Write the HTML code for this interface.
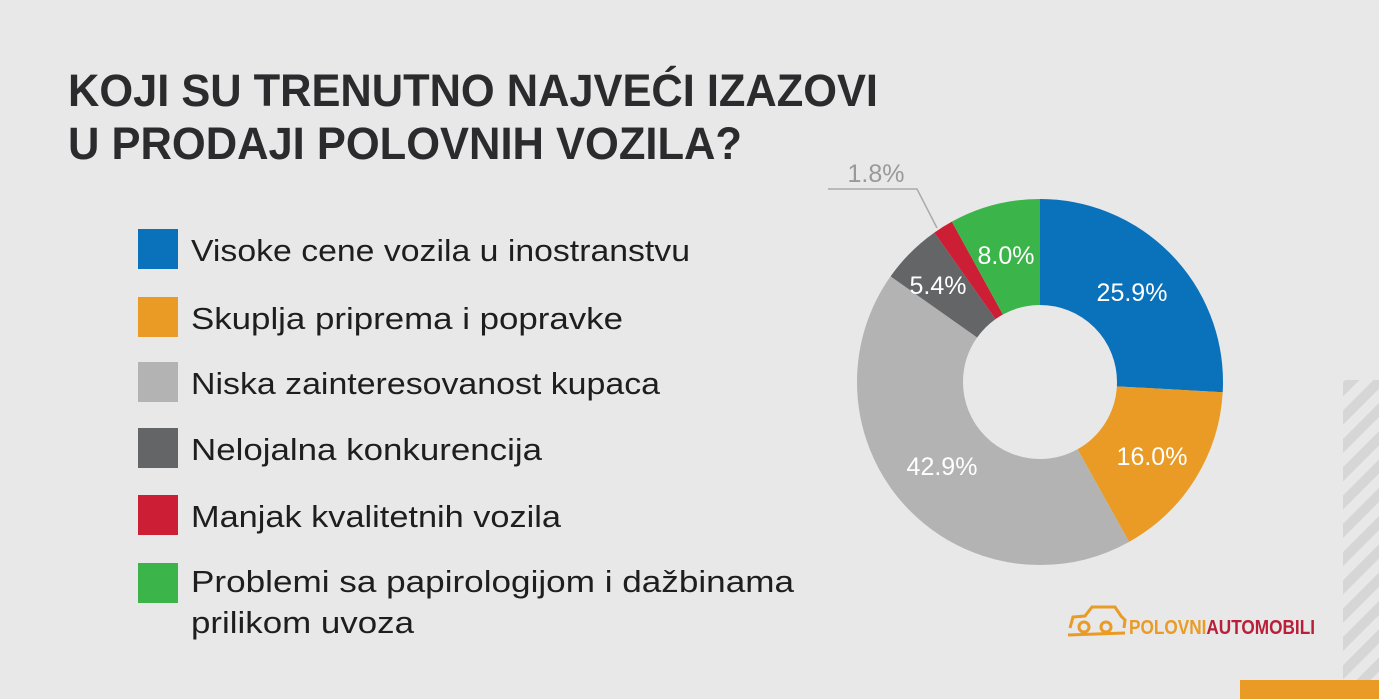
<!DOCTYPE html>
<html><head><meta charset="utf-8"><style>
html,body{margin:0;padding:0;background:#e8e8e8;}
svg{display:block;}
</style></head><body>
<svg width="1379" height="699" viewBox="0 0 1379 699" xmlns="http://www.w3.org/2000/svg">
<defs>
<pattern id="st" width="20" height="20" patternUnits="userSpaceOnUse" patternTransform="rotate(45)">
<rect width="20" height="20" fill="#e8e8e8"/><rect width="10" height="20" fill="#d6d6d6"/>
</pattern>
</defs>
<rect width="1379" height="699" fill="#e8e8e8"/>
<rect x="1343" y="380" width="36" height="300" fill="url(#st)"/>
<rect x="1240" y="680" width="139" height="19" fill="#e99b25"/>
<g font-family="Liberation Sans, sans-serif" font-weight="bold" font-size="45" fill="#2b2b2d">
<text x="68" y="106" textLength="810" lengthAdjust="spacingAndGlyphs">KOJI SU TRENUTNO NAJVEĆI IZAZOVI</text>
<text x="68" y="159" textLength="674" lengthAdjust="spacingAndGlyphs">U PRODAJI POLOVNIH VOZILA?</text>
</g>
<rect x="138" y="229" width="40" height="40" fill="#0a71bb"/>
<rect x="138" y="297" width="40" height="40" fill="#e99b25"/>
<rect x="138" y="362" width="40" height="40" fill="#b3b3b3"/>
<rect x="138" y="428" width="40" height="40" fill="#646567"/>
<rect x="138" y="495" width="40" height="40" fill="#cc1f36"/>
<rect x="138" y="563" width="40" height="40" fill="#3bb54a"/>
<g font-family="Liberation Sans, sans-serif" font-size="31" fill="#1e1e1e">
<text x="191" y="261" textLength="499" lengthAdjust="spacingAndGlyphs">Visoke cene vozila u inostranstvu</text>
<text x="191" y="329" textLength="432" lengthAdjust="spacingAndGlyphs">Skuplja priprema i popravke</text>
<text x="191" y="394" textLength="469" lengthAdjust="spacingAndGlyphs">Niska zainteresovanost kupaca</text>
<text x="191" y="460" textLength="351" lengthAdjust="spacingAndGlyphs">Nelojalna konkurencija</text>
<text x="191" y="527" textLength="370" lengthAdjust="spacingAndGlyphs">Manjak kvalitetnih vozila</text>
<text x="191" y="592" textLength="603" lengthAdjust="spacingAndGlyphs">Problemi sa papirologijom i dažbinama</text>
<text x="191" y="633" textLength="223" lengthAdjust="spacingAndGlyphs">prilikom uvoza</text>
</g>
<g transform="translate(1040,382) rotate(-90)" fill="none" stroke-width="106">
<circle r="130" pathLength="100" stroke="#0a71bb" stroke-dasharray="25.9 74.1" stroke-dashoffset="0"/>
<circle r="130" pathLength="100" stroke="#e99b25" stroke-dasharray="16 84" stroke-dashoffset="-25.9"/>
<circle r="130" pathLength="100" stroke="#b3b3b3" stroke-dasharray="42.9 57.1" stroke-dashoffset="-41.9"/>
<circle r="130" pathLength="100" stroke="#646567" stroke-dasharray="5.4 94.6" stroke-dashoffset="-84.8"/>
<circle r="130" pathLength="100" stroke="#cc1f36" stroke-dasharray="1.8 98.2" stroke-dashoffset="-90.2"/>
<circle r="130" pathLength="100" stroke="#3bb54a" stroke-dasharray="8 92" stroke-dashoffset="-92"/>
</g>
<g font-family="Liberation Sans, sans-serif" font-size="25" fill="#fff" text-anchor="middle">
<text x="1132" y="301">25.9%</text>
<text x="1152" y="465">16.0%</text>
<text x="942" y="475">42.9%</text>
<text x="938" y="294">5.4%</text>
<text x="1006" y="264">8.0%</text>
<text x="876" y="182" fill="#999">1.8%</text>
</g>
<polyline points="828,189 917,189 937,228" fill="none" stroke="#aaa" stroke-width="1.5"/>
<g fill="none" stroke="#e99b25" stroke-width="3">
<path d="M1070 628 L1073 617 L1085 616 L1092 607 L1115 607 L1121 616 L1125 620 L1124 628"/>
<circle cx="1084" cy="627" r="5"/><circle cx="1106" cy="627" r="5"/>
<path d="M1068 635 L1125 633"/>
</g>
<text x="1129" y="634" font-family="Liberation Sans, sans-serif" font-weight="bold" font-size="20" textLength="186" lengthAdjust="spacingAndGlyphs"><tspan fill="#e99b25">POLOVNI</tspan><tspan fill="#b8203a">AUTOMOBILI</tspan></text>
</svg>
</body></html>
